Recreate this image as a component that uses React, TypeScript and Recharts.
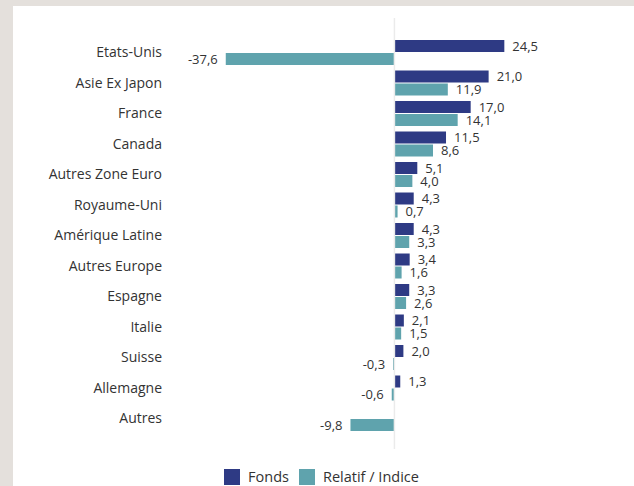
import { BarChart, Bar, XAxis, YAxis, Legend, LabelList, ReferenceLine } from 'recharts'

const categories = [
  'Etats-Unis', 'Asie Ex Japon', 'France', 'Canada', 'Autres Zone Euro', 'Royaume-Uni',
  'Amérique Latine', 'Autres Europe', 'Espagne', 'Italie', 'Suisse', 'Allemagne', 'Autres',
]
const fonds: (number | null)[] = [24.5, 21.0, 17.0, 11.5, 5.1, 4.3, 4.3, 3.4, 3.3, 2.1, 2.0, 1.3, null]
const relatif = [-37.6, 11.9, 14.1, 8.6, 4.0, 0.7, 3.3, 1.6, 2.6, 1.5, -0.3, -0.6, -9.8]

const FONDS_COLOR = '#2e3a84'
const RELATIF_COLOR = '#5fa3ad'
const TEXT = '#333333'
const FONT = '"Open Sans", Arial, sans-serif'

const data = categories.map((name, i) => ({ name, fonds: fonds[i], relatif: relatif[i] }))

const fmt = (v: number) => v.toFixed(1).replace('.', ',')

function ValueLabel(props: any) {
  const { x, y, width, height, value } = props
  if (value === null || value === undefined) return null
  const left = Math.min(x, x + width)
  const right = Math.max(x, x + width)
  const neg = value < 0
  return (
    <text
      x={neg ? left - 8 : right + 8}
      y={y + height / 2}
      dy="0.35em"
      textAnchor={neg ? 'end' : 'start'}
      fontSize={13}
      fontFamily={FONT}
      fill={TEXT}
    >
      {fmt(value)}
    </text>
  )
}

function LegendContent() {
  const items = [
    { label: 'Fonds', color: FONDS_COLOR },
    { label: 'Relatif / Indice', color: RELATIF_COLOR },
  ]
  return (
    <div style={{ height: 37, display: 'flex', justifyContent: 'center', alignItems: 'flex-end', paddingBottom: 0, paddingRight: 4, boxSizing: 'border-box' }}>
      {items.map((it) => (
        <div key={it.label} style={{ display: 'flex', alignItems: 'center', margin: '0 5px', fontFamily: FONT, fontSize: 14.5, color: TEXT }}>
          <span style={{ width: 16, height: 16, background: it.color, display: 'inline-block', marginRight: 8 }} />
          {it.label}
        </div>
      ))}
    </div>
  )
}

export default function App() {
  return (
    <div style={{ position: 'absolute', top: 0, left: 0, width: 634, height: 486, background: '#e4e0dc' }}>
      <div style={{ position: 'absolute', left: 13, top: 6, width: 621, height: 480, background: '#ffffff' }}>
        <BarChart
          width={621}
          height={480}
          data={data}
          layout="vertical"
          barSize={12}
          barGap={1}
          margin={{ top: 12, right: 105, left: 0, bottom: 0 }}
        >
          <XAxis type="number" hide domain={[-40, 30]} />
          <YAxis
            type="category"
            dataKey="name"
            width={202}
            tickLine={false}
            axisLine={false}
            tickMargin={47}
            padding={{ top: 19, bottom: 15.5 }}
            tick={{ fontSize: 14, fontFamily: FONT, fill: TEXT }}
            interval={0}
          />
          <ReferenceLine x={0} stroke="#ebebeb" strokeWidth={1.5} />
          <Legend verticalAlign="bottom" content={<LegendContent />} wrapperStyle={{ left: 0, width: 621 }} />
          <Bar dataKey="fonds" name="Fonds" fill={FONDS_COLOR} isAnimationActive={false}>
            <LabelList dataKey="fonds" content={<ValueLabel />} />
          </Bar>
          <Bar dataKey="relatif" name="Relatif / Indice" fill={RELATIF_COLOR} isAnimationActive={false}>
            <LabelList dataKey="relatif" content={<ValueLabel />} />
          </Bar>
        </BarChart>
      </div>
    </div>
  )
}
